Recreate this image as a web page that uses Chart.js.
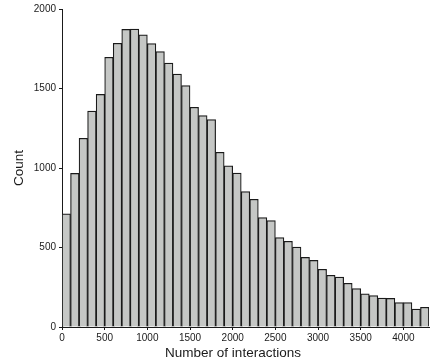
<!DOCTYPE html>
<html>
<head>
<meta charset="utf-8">
<script src="https://cdn.jsdelivr.net/npm/chart.js@4"></script>
<style>
    html, body { margin: 0; padding: 0; background: #fff; }
    #wrap { width: 434px; height: 364px; }
</style>
</head>
<body>
<div id="wrap"><canvas id="histChart"></canvas></div>
<script>
// Histogram bins (width 100), centres and counts
const binCenters = [
    50, 150, 250, 350, 450, 550, 650, 750, 850, 950,
    1050, 1150, 1250, 1350, 1450, 1550, 1650, 1750, 1850, 1950,
    2050, 2150, 2250, 2350, 2450, 2550, 2650, 2750, 2850, 2950,
    3050, 3150, 3250, 3350, 3450, 3550, 3650, 3750, 3850, 3950,
    4050, 4150, 4250
];
const counts = [
    712, 966, 1187, 1358, 1463, 1696, 1784, 1872, 1874, 1838,
    1782, 1732, 1660, 1591, 1518, 1382, 1329, 1305, 1099, 1014,
    968, 851, 803, 688, 669, 562, 539, 503, 438, 419,
    363, 325, 314, 275, 241, 209, 197, 182, 180, 153,
    153, 113, 124
];
const xTicks = [0, 500, 1000, 1500, 2000, 2500, 3000, 3500, 4000];
const yTicks = [0, 500, 1000, 1500, 2000];
const xTitle = 'Number of interactions';
const yTitle = 'Count';

const FONT = '"Liberation Sans", Arial, Helvetica, sans-serif';
const INK = '#1a1a1a';

// the x title in the original sits a bit left of the plot centre
const xTitlePlugin = {
    id: 'xTitle',
    afterDraw(chart) {
        const c = chart.ctx;
        c.save();
        c.font = '13.5px ' + FONT;
        c.fillStyle = INK;
        c.textAlign = 'center';
        c.textBaseline = 'middle';
        c.fillText(xTitle, 233, 353);
        c.restore();
    }
};

const ctx = document.getElementById('histChart').getContext('2d');

new Chart(ctx, {
    type: 'bar',
    data: {
        datasets: [{
            data: binCenters.map((x, i) => ({ x: x, y: counts[i] })),
            backgroundColor: '#c5c7c5',
            borderColor: INK,
            borderWidth: 1.2,
            barPercentage: 1,
            categoryPercentage: 1
        }]
    },
    options: {
        responsive: true,
        maintainAspectRatio: false,
        animation: false,
        layout: { padding: { top: 9, right: 5, left: 0, bottom: 0 } },
        plugins: {
            legend: { display: false },
            tooltip: { enabled: false }
        },
        scales: {
            x: {
                type: 'linear',
                min: 0,
                max: 4300,
                offset: false,
                grid: { display: true, offset: false, drawOnChartArea: false, drawTicks: true, tickLength: 3, color: INK },
                border: { display: true, color: INK, width: 1 },
                ticks: {
                    padding: 2,
                    maxRotation: 0,
                    autoSkip: false,
                    color: INK,
                    font: { family: FONT, size: 10 },
                    callback: v => String(v)
                },
                afterBuildTicks: scale => { scale.ticks = xTicks.map(v => ({ value: v })); },
                title: { display: false },
                afterFit: scale => { scale.height = 37; }
            },
            y: {
                min: 0,
                max: 2000,
                grid: { display: true, drawOnChartArea: false, drawTicks: true, tickLength: 3, color: INK },
                border: { display: true, color: INK, width: 1 },
                ticks: {
                    padding: 3,
                    autoSkip: false,
                    color: INK,
                    font: { family: FONT, size: 10 },
                    callback: v => String(v)
                },
                afterBuildTicks: scale => { scale.ticks = yTicks.map(v => ({ value: v })); },
                title: {
                    display: true,
                    text: yTitle,
                    color: INK,
                    font: { family: FONT, size: 13.5 },
                    padding: { top: 11, bottom: 0 }
                },
                afterFit: scale => { scale.width = 62; }
            }
        }
    },
    plugins: [xTitlePlugin]
});
</script>
</body>
</html>
